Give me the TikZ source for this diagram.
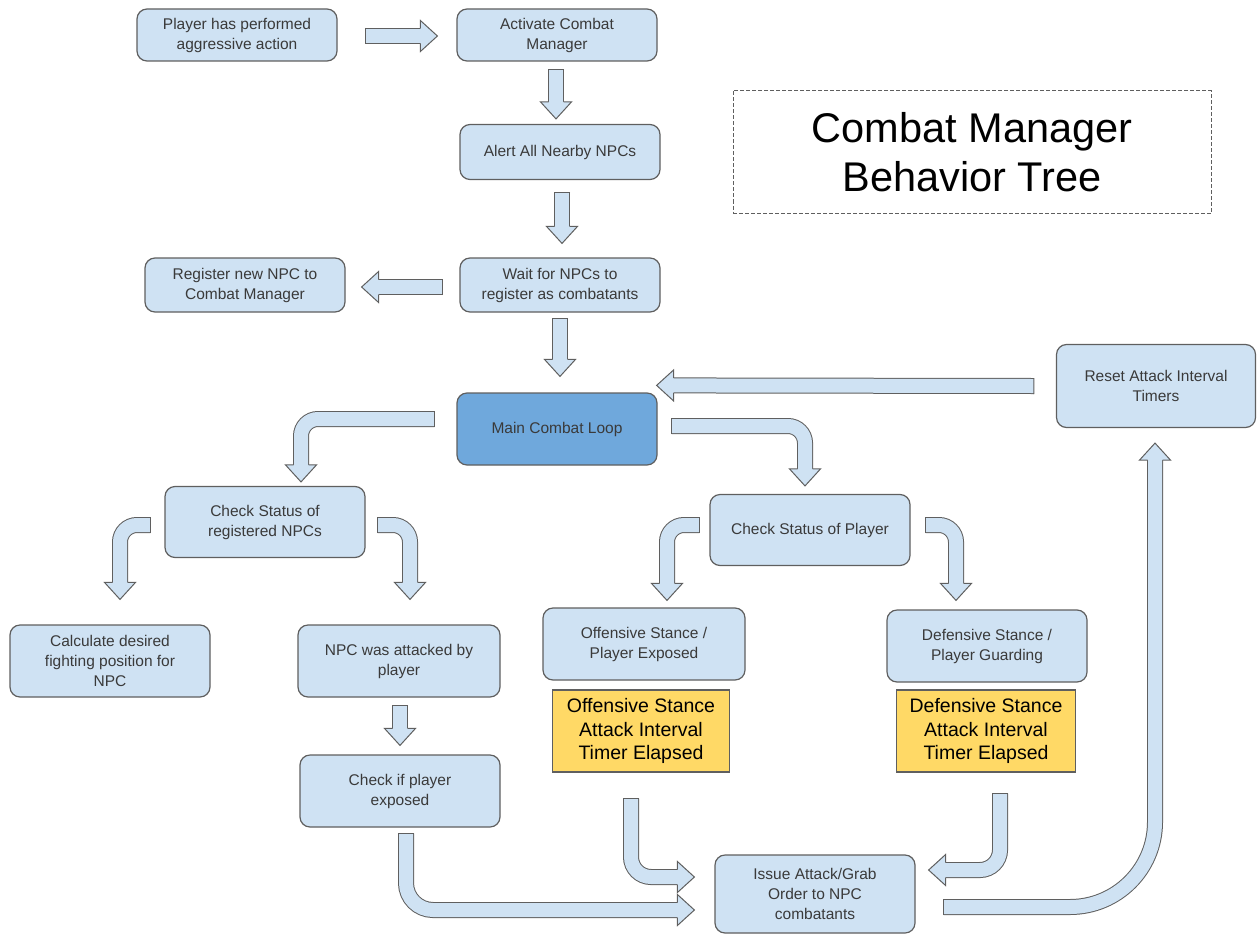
\documentclass[tikz,border=0pt]{standalone}
\usepackage{fontspec}
\setmainfont{Liberation Sans}
\usepackage{tikz}
\usetikzlibrary{calc}
\definecolor{bFill}{HTML}{CFE2F3}
\definecolor{bLine}{HTML}{5F5F5F}
\definecolor{bText}{HTML}{3A3A3A}
\definecolor{loopFill}{HTML}{6FA8DC}
\definecolor{tFill}{HTML}{FFD966}
\tikzset{
  box/.style={rectangle, rounded corners=10pt, draw=bLine, line width=1.2pt, fill=bFill,
              minimum width=200pt, minimum height=54pt, align=center, text=bText,
              inner sep=2pt, font=\fontsize{15.5}{20}\selectfont},
  loopbox/.style={box, fill=loopFill},
  timer/.style={rectangle, draw=bLine, line width=1.2pt, fill=tFill, minimum width=177pt,
                minimum height=82pt, align=center, inner sep=2pt,
                font=\fontsize{19.5}{23.5}\selectfont},
  heading/.style={rectangle, draw=bLine, dash pattern=on 4pt off 2pt, line width=0.9pt,
                  minimum width=478pt, minimum height=123pt, align=center,
                  font=\fontsize{41.5}{49}\selectfont},
  fshaft/.style={draw=bLine, line width=1pt, double=bFill, double distance=14pt},
  fedge/.style={draw=bLine, line width=1pt},
}
% fat block arrows: tail, (corner), tip
\newcommand{\fattail}[2]{\draw[fedge] ($(#1)!8pt!90:(#2)$) -- ($(#1)!8pt!-90:(#2)$);}
\newcommand{\fathead}[2]{%
  \fill[bFill] ($(#1)!15.5pt!90:(#2)$) -- (#2) -- ($(#1)!15.5pt!-90:(#2)$) -- cycle;
  \draw[fedge] ($(#1)!7.5pt!90:(#2)$) -- ($(#1)!15.5pt!90:(#2)$) -- (#2)
     -- ($(#1)!15.5pt!-90:(#2)$) -- ($(#1)!7.5pt!-90:(#2)$);}
\newcommand{\fatline}[2]{%
  \coordinate (fa-t) at (#1); \coordinate (fa-b) at (#2);
  \coordinate (fa-n) at ($(fa-b)!17pt!(fa-t)$);
  \draw[fshaft] (fa-t) -- ($(fa-b)!16.5pt!(fa-t)$);
  \fattail{fa-t}{fa-b}\fathead{fa-n}{fa-b}}
\newcommand{\fatHV}[3][17pt]{%
  \coordinate (fa-t) at (#2); \coordinate (fa-b) at (#3);
  \coordinate (fa-c) at (fa-b |- fa-t);
  \coordinate (fa-n) at ($(fa-b)!17pt!(fa-c)$);
  \draw[fshaft, rounded corners=#1] (fa-t) -- (fa-c) -- ($(fa-b)!16.5pt!(fa-c)$);
  \fattail{fa-t}{fa-c}\fathead{fa-n}{fa-b}}
\newcommand{\fatVH}[3][17pt]{%
  \coordinate (fa-t) at (#2); \coordinate (fa-b) at (#3);
  \coordinate (fa-c) at (fa-t |- fa-b);
  \coordinate (fa-n) at ($(fa-b)!17pt!(fa-c)$);
  \draw[fshaft, rounded corners=#1] (fa-t) -- (fa-c) -- ($(fa-b)!16.5pt!(fa-c)$);
  \fattail{fa-t}{fa-c}\fathead{fa-n}{fa-b}}

\begin{document}
\begin{tikzpicture}[x=1pt, y=-1pt]
  \useasboundingbox (0,0) rectangle (1257,934);

  % --- start of the tree ---
  \node[box, minimum height=52pt] (aggr)  at (237,35)  {Player has performed\\aggressive action};
  \node[box, minimum height=52pt] (act)   at (557,35)  {Activate Combat\\Manager};
  \node[box, minimum height=55pt] (alert) at (560,152) {Alert All Nearby NPCs};
  \node[box] (wait) at (560,285) {Wait for NPCs to\\register as combatants};
  \node[box] (reg)  at (245,285) {Register new NPC to\\Combat Manager};

  \node[heading] (title) at (972,152) {Combat Manager\\Behavior Tree};

  % --- combat loop ---
  \node[loopbox, minimum height=72pt] (main)  at (557,429)  {Main Combat Loop};
  \node[box, minimum width=199pt, minimum height=83pt] (reset) at (1156,386) {Reset Attack Interval\\Timers};

  \node[box, minimum height=71pt] (chknpc) at (265,522) {Check Status of\\registered NPCs};
  \node[box, minimum height=71pt] (chkpl)  at (810,530) {Check Status of Player};

  \node[box, minimum height=72pt] (calc)     at (110,661) {Calculate desired\\fighting position for\\NPC};
  \node[box, minimum width=202pt, minimum height=72pt] (attacked) at (399,661) {NPC was attacked by\\player};
  \node[box, minimum height=72pt] (exposed)  at (400,791) {Check if player\\exposed};

  \node[box, minimum width=202pt, minimum height=72pt] (offst) at (644,644) {Offensive Stance /\\Player Exposed};
  \node[box, minimum height=72pt] (defst) at (987,646) {Defensive Stance /\\Player Guarding};
  \node[timer] (offtm) at (641,731) {Offensive Stance\\Attack Interval\\Timer Elapsed};
  \node[timer, minimum width=179pt] (deftm) at (986,731) {Defensive Stance\\Attack Interval\\Timer Elapsed};

  \node[box, minimum height=78pt] (issue) at (815,894) {Issue Attack/Grab\\Order to NPC\\combatants};

  % --- block arrows ---
  \fatline{$(aggr.east)+(28,1)$}{$(act.west)+(-19,1)$}
  \fatline{$(act.south)+(-1,8)$}{$(alert.north)+(-4,-5)$}
  \fatline{$(alert.south)+(2,12)$}{$(wait.north)+(2,-14)$}
  \fatline{$(wait.west)+(-17,2)$}{$(reg.east)+(16,2)$}
  \fatline{$(wait.south)+(0,6)$}{$(main.north)+(3,-16)$}
  \fatline{$(reset.west)+(-22,0)$}{$(main.north east)+(-1,-7)$}

  \fatHV{$(main.west)+(-22,-10)$}{$(chknpc.north)+(36,-4)$}
  \fatHV{$(main.east)+(14,-3)$}{$(chkpl.north)+(-5,-8)$}
  \fatHV{$(chknpc.west)+(-14,3)$}{$(calc.north)+(10,-25)$}
  \fatHV{$(chknpc.east)+(12,3)$}{$(attacked.north)+(11,-25)$}
  \fatHV{$(chkpl.west)+(-10,-5)$}{$(offst.north)+(23,-7)$}
  \fatHV{$(chkpl.east)+(15,-5)$}{$(defst.north)+(-31,-9)$}

  \fatline{$(attacked.south)+(1,8)$}{$(exposed.north)+(0,-9)$}

  \fatVH[27pt]{$(exposed.south)+(6,6)$}{$(issue.west)+(-20,16)$}
  \fatVH[20pt]{$(offtm.south)+(-10,26)$}{$(issue.west)+(-20,-17)$}
  \fatVH[20pt]{$(deftm.south)+(14,21)$}{$(issue.east)+(13,-24)$}
  \fatHV[85pt]{$(issue.east)+(28,13)$}{$(reset.south)+(-1,15)$}
\end{tikzpicture}
\end{document}
